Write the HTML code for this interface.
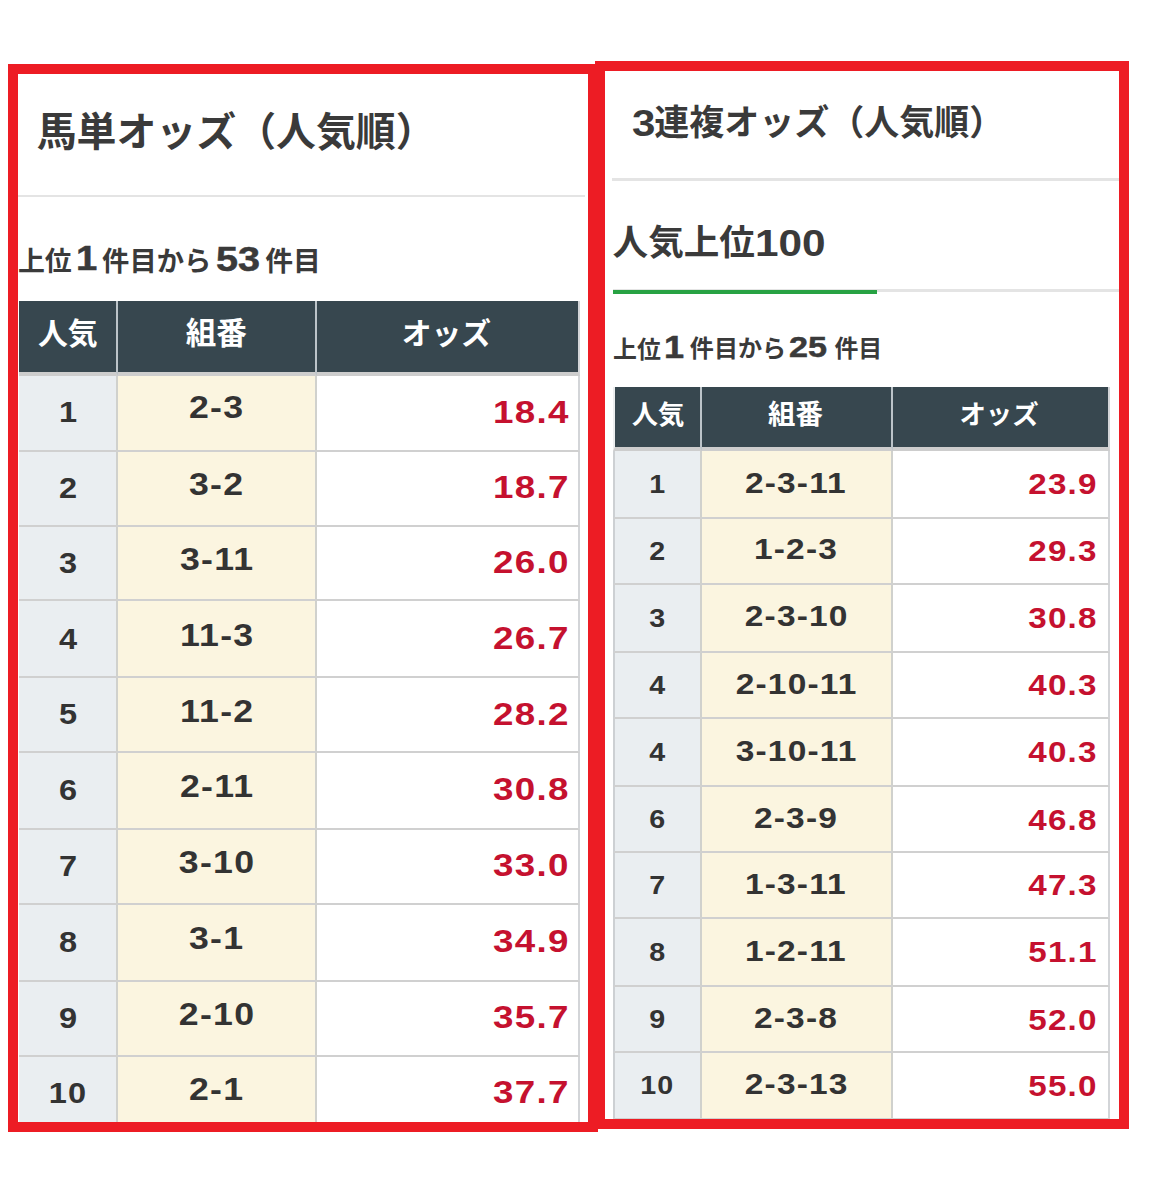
<!DOCTYPE html>
<html lang="ja">
<head>
<meta charset="utf-8">
<title>オッズ（人気順）</title>
<style>
*{margin:0;padding:0;box-sizing:border-box}
html,body{width:1150px;height:1200px;background:#fff;overflow:hidden}
body{position:relative;font-family:"Liberation Sans",sans-serif;color:#333}
.frame{position:absolute;border:10px solid #ed1c24;z-index:3;pointer-events:none}
.fl{left:8px;top:64px;width:590px;height:1068px}
.fr{left:595px;top:61px;width:534px;height:1068px}
.layer{position:absolute;left:0;top:0;width:1150px;height:1200px;z-index:1;overflow:hidden}
.jt{position:absolute;display:block;line-height:1;white-space:nowrap;font-weight:bold;color:#3a3a3a;font-family:"Liberation Sans","Noto Sans CJK JP",sans-serif}
th .jt{color:#fff}
.num{position:absolute;font-weight:bold;line-height:1;white-space:nowrap;transform-origin:0 0;color:#3a3a3a}
.num.s{-webkit-text-stroke:.5px #3a3a3a}
.hr{position:absolute;background:#e4e4e4}
.green{position:absolute;background:#27a243}
h2,h3,p{font-weight:normal;font-size:0}
/* tables: block/flex display so fractional row heights do not get rounded */
table.odds{position:absolute;display:block;font-weight:bold;border-spacing:0}
table.odds thead,table.odds tbody{display:block}
table.odds tr{display:flex}
table.odds th,table.odds td{display:flex;align-items:center;flex:none;white-space:nowrap}
table.odds th{position:relative;background:#37474f;border-right:2.5px solid #bcc4c9}
table.odds td{border-right:2.5px solid #d0d1cd;border-bottom:2px solid #d0d0d0}
table.odds .c3{border-right-width:2px;border-right-color:#d3d5d8}
table.odds td.c1{background:#eaeef1;justify-content:center}
table.odds td.c2{background:#fbf5e0;justify-content:center}
table.odds td.c3{background:#fff;justify-content:flex-end;color:#c5112f}
table.odds td span{display:block;line-height:1}
table.odds td.c3 span{transform-origin:100% 50%}
/* left table */
.tl{left:19px;top:301px;width:560.6px}
.tl .c1{width:99.2px}.tl .c2{width:198.8px}.tl .c3{width:262.6px}
.tl th{height:74.6px;border-bottom:4.8px solid #cdcdcd}
.tl tbody tr:nth-child(1) td{height:76.20px}
.tl tbody tr:nth-child(2) td{height:75.00px}
.tl tbody tr:nth-child(3) td{height:74.50px}
.tl tbody tr:nth-child(4) td{height:77.20px}
.tl tbody tr:nth-child(5) td{height:74.60px}
.tl tbody tr:nth-child(6) td{height:76.70px}
.tl tbody tr:nth-child(7) td{height:75.40px}
.tl tbody tr:nth-child(8) td{height:76.60px}
.tl tbody tr:nth-child(9) td{height:75.00px}
.tl tbody tr:nth-child(10) td{height:75.40px}
.tl td span{letter-spacing:.035em;position:relative}
.tl td.c1 span{font-size:28.8px;transform:scaleX(1.13);top:.1px;margin-right:-.035em}
.tl td.c2 span{font-size:31.8px;transform:scaleX(1.122);top:-3.2px;margin-right:-.035em}
.tl tbody tr:first-child td.c2 span{top:-4.8px}
.tl td.c3 span{font-size:32px;transform:scaleX(1.148);top:-1.1px;margin-right:8px}
/* right table */
.tr{left:612.6px;top:386.5px;width:497.7px}
.tr .c1{width:89.4px;border-left:2px solid #cdd0d3}
.tr th.c1{border-left-color:#eceeef}.tr .c2{width:191.3px}.tr .c3{width:217px}
.tr th{height:64.5px;border-bottom:4.5px solid #cdcdcd}
.tr tbody tr:nth-child(1) td{height:68.10px}
.tr tbody tr:nth-child(2) td{height:65.65px}
.tr tbody tr:nth-child(3) td{height:68.35px}
.tr tbody tr:nth-child(4) td{height:66.00px}
.tr tbody tr:nth-child(5) td{height:68.40px}
.tr tbody tr:nth-child(6) td{height:65.80px}
.tr tbody tr:nth-child(7) td{height:65.80px}
.tr tbody tr:nth-child(8) td{height:68.40px}
.tr tbody tr:nth-child(9) td{height:66.00px}
.tr tbody tr:nth-child(10) td{height:66.50px}
.tr td span{letter-spacing:.035em;position:relative}
.tr td.c1 span{font-size:25.8px;transform:scaleX(1.11);top:.6px;left:-.6px;margin-right:-.035em}
.tr td.c2 span{font-size:29.5px;transform:scaleX(1.135);top:-1.8px;left:-.8px;margin-right:-.035em}
.tr td.c3 span{font-size:29.5px;transform:scaleX(1.125);top:-.1px;margin-right:10.5px}
</style>
</head>
<body>
<div class="frame fl"></div>
<div class="frame fr"></div>
<main class="layer">
<section class="pane" aria-label="馬単オッズ（人気順）">
<h2 class="ttl"><span class="jt" style="left:36.7px;top:113.0px;font-size:39.9px">馬単オッズ（人気順）</span></h2>
<div class="hr" style="left:18px;top:194.6px;width:567px;height:2.7px"></div>
<p class="sub"><span class="jt" style="left:17.9px;top:248.7px;font-size:26.9px">上位</span><span class="num s" style="left:75.89px;top:241.17px;font-size:35.47px;transform:scaleX(1.079);">1</span><span class="jt" style="left:102.1px;top:248.3px;font-size:27.3px">件目から</span><span class="num s" style="left:216.18px;top:241.69px;font-size:34.39px;transform:scaleX(1.151);">53</span><span class="jt" style="left:265.3px;top:248.0px;font-size:27.8px">件目</span></p>
<table class="odds tl">
<thead><tr><th class="c1"><span class="jt" style="left:18.9px;top:17.9px;font-size:29.8px">人気</span></th><th class="c2"><span class="jt" style="left:67.6px;top:17.4px;font-size:30.5px">組番</span></th><th class="c3"><span class="jt" style="left:84.8px;top:18.3px;font-size:29.8px">オッズ</span></th></tr></thead><tbody>
<tr><td class="c1"><span>1</span></td><td class="c2"><span>2-3</span></td><td class="c3"><span>18.4</span></td></tr>
<tr><td class="c1"><span>2</span></td><td class="c2"><span>3-2</span></td><td class="c3"><span>18.7</span></td></tr>
<tr><td class="c1"><span>3</span></td><td class="c2"><span>3-11</span></td><td class="c3"><span>26.0</span></td></tr>
<tr><td class="c1"><span>4</span></td><td class="c2"><span>11-3</span></td><td class="c3"><span>26.7</span></td></tr>
<tr><td class="c1"><span>5</span></td><td class="c2"><span>11-2</span></td><td class="c3"><span>28.2</span></td></tr>
<tr><td class="c1"><span>6</span></td><td class="c2"><span>2-11</span></td><td class="c3"><span>30.8</span></td></tr>
<tr><td class="c1"><span>7</span></td><td class="c2"><span>3-10</span></td><td class="c3"><span>33.0</span></td></tr>
<tr><td class="c1"><span>8</span></td><td class="c2"><span>3-1</span></td><td class="c3"><span>34.9</span></td></tr>
<tr><td class="c1"><span>9</span></td><td class="c2"><span>2-10</span></td><td class="c3"><span>35.7</span></td></tr>
<tr><td class="c1"><span>10</span></td><td class="c2"><span>2-1</span></td><td class="c3"><span>37.7</span></td></tr>
</tbody></table>
</section>
<section class="pane" aria-label="3連複オッズ（人気順）">
<h2 class="ttl"><span class="num m" style="left:631.54px;top:104.59px;font-size:37.77px;transform:scaleX(1.113);">3</span><span class="jt" style="left:654.3px;top:104.8px;font-size:35.0px">連複オッズ（人気順）</span></h2>
<div class="hr" style="left:612.2px;top:178.2px;width:507px;height:2.5px"></div>
<h3 class="tab"><span class="jt" style="left:612.6px;top:225.5px;font-size:35.6px">人気上位</span><span class="num m" style="left:755.43px;top:226.25px;font-size:36.72px;transform:scaleX(1.152);">100</span></h3>
<div class="hr" style="left:613px;top:288.6px;width:506px;height:3.8px"></div>
<div class="green" style="left:613px;top:290px;width:264px;height:4.3px"></div>
<p class="sub"><span class="jt" style="left:613.1px;top:337.5px;font-size:23.9px">上位</span><span class="num s" style="left:663.73px;top:331.96px;font-size:30.52px;transform:scaleX(1.183);">1</span><span class="jt" style="left:689.8px;top:337.3px;font-size:24.1px">件目から</span><span class="num s" style="left:789.31px;top:332.11px;font-size:30.23px;transform:scaleX(1.131);">25</span><span class="jt" style="left:834.4px;top:337.3px;font-size:23.9px">件目</span></p>
<table class="odds tr">
<thead><tr><th class="c1"><span class="jt" style="left:17.2px;top:15.5px;font-size:26.3px">人気</span></th><th class="c2"><span class="jt" style="left:66.0px;top:14.7px;font-size:27.4px">組番</span></th><th class="c3"><span class="jt" style="left:66.2px;top:15.7px;font-size:26.4px">オッズ</span></th></tr></thead><tbody>
<tr><td class="c1"><span>1</span></td><td class="c2"><span>2-3-11</span></td><td class="c3"><span>23.9</span></td></tr>
<tr><td class="c1"><span>2</span></td><td class="c2"><span>1-2-3</span></td><td class="c3"><span>29.3</span></td></tr>
<tr><td class="c1"><span>3</span></td><td class="c2"><span>2-3-10</span></td><td class="c3"><span>30.8</span></td></tr>
<tr><td class="c1"><span>4</span></td><td class="c2"><span>2-10-11</span></td><td class="c3"><span>40.3</span></td></tr>
<tr><td class="c1"><span>4</span></td><td class="c2"><span>3-10-11</span></td><td class="c3"><span>40.3</span></td></tr>
<tr><td class="c1"><span>6</span></td><td class="c2"><span>2-3-9</span></td><td class="c3"><span>46.8</span></td></tr>
<tr><td class="c1"><span>7</span></td><td class="c2"><span>1-3-11</span></td><td class="c3"><span>47.3</span></td></tr>
<tr><td class="c1"><span>8</span></td><td class="c2"><span>1-2-11</span></td><td class="c3"><span>51.1</span></td></tr>
<tr><td class="c1"><span>9</span></td><td class="c2"><span>2-3-8</span></td><td class="c3"><span>52.0</span></td></tr>
<tr><td class="c1"><span>10</span></td><td class="c2"><span>2-3-13</span></td><td class="c3"><span>55.0</span></td></tr>
</tbody></table>
</section>
</main>
</body>
</html>
